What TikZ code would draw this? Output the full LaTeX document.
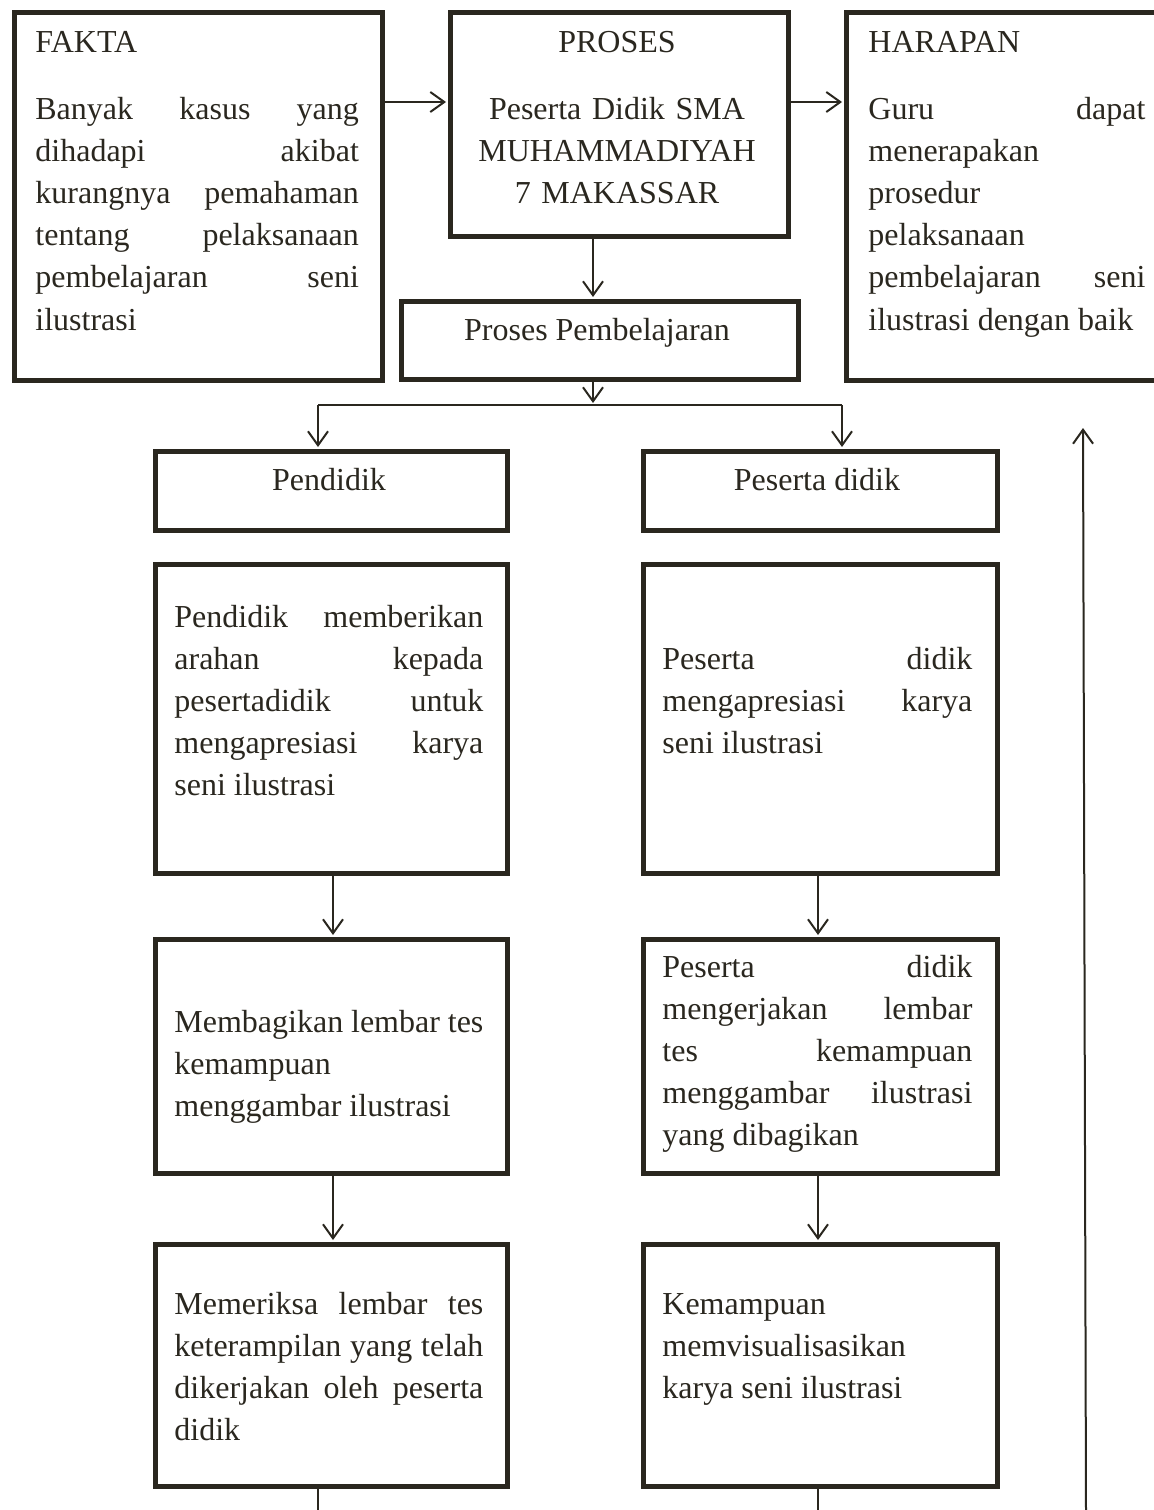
\documentclass[tikz,border=0pt]{standalone}
\usepackage{fontspec}
\setmainfont{Liberation Serif}
\usetikzlibrary{arrows.meta,positioning}

\definecolor{tinta}{RGB}{42,39,31}

\tikzset{
  kotak/.style={draw=tinta, line width=2.4pt, inner sep=0pt, anchor=north west},
  teks/.style={inner sep=0pt, text=tinta, font=\fontsize{16}{21.1}\selectfont},
  judul/.style={teks, anchor=base west},
  paragraf/.style={teks, anchor=base west, align=justify,
    execute at begin node={\tolerance=10000\hyphenpenalty=10000}},
  panah/.style={draw=tinta, line width=1pt, shorten >=1pt,
    -{Straight Barb[length=7pt,width=10pt]}},
  garis/.style={draw=tinta, line width=1pt},
}

\begin{document}
\begin{tikzpicture}[x=0.5pt,y=-0.5pt]
\useasboundingbox (0,0) rectangle (1153,1510);

    % Baris atas: fakta, proses, harapan
    \node[kotak, minimum width=184pt, minimum height=184pt] (fakta) at (12,10) {};
    \node[judul] (fakta-judul) at (35,52) {FAKTA};
    \node[paragraf, text width=161.75pt] (fakta-isi) at (35,119)
      {Banyak kasus yang\linebreak dihadapi akibat\linebreak kurangnya pemahaman\linebreak
       tentang pelaksanaan\linebreak pembelajaran seni\linebreak ilustrasi};

    \node[kotak, minimum width=169pt, minimum height=112pt] (proses) at (448,10) {};
    \node[teks, anchor=base] (proses-judul) at (617,52) {PROSES};
    \node[teks, anchor=base, align=center, text width=165pt] (proses-isi) at (617,119)
      {Peserta Didik SMA\\MUHAMMADIYAH\\7 MAKASSAR};

    \node[kotak, minimum width=163pt, minimum height=184pt] (harapan) at (844,10) {};
    \node[judul] (harapan-judul) at (868,52) {HARAPAN};
    \node[paragraf, text width=138.5pt] (harapan-isi) at (868,119)
      {Guru dapat\linebreak menerapakan\linebreak prosedur\linebreak pelaksanaan\linebreak
       pembelajaran seni\linebreak ilustrasi dengan baik};

    % Proses pembelajaran
    \node[kotak, minimum width=198.5pt, minimum height=39pt] (pembelajaran) at (399,299) {};
    \node[teks, anchor=base] (pembelajaran-teks) at (597,340) {Proses Pembelajaran};

    % Pendidik dan peserta didik
    \node[kotak, minimum width=176pt, minimum height=39.5pt] (pendidik) at (153,449) {};
    \node[teks, anchor=base] (pendidik-teks) at (329,490) {Pendidik};
    \node[kotak, minimum width=177pt, minimum height=39.5pt] (peserta) at (641,449) {};
    \node[teks, anchor=base] (peserta-teks) at (817,490) {Peserta didik};

    % Kolom kiri
    \node[kotak, minimum width=176pt, minimum height=154.5pt] (kiri2) at (153,562) {};
    \node[paragraf, text width=154.5pt] (kiri2-isi) at (174,627)
      {Pendidik memberikan\linebreak arahan kepada\linebreak pesertadidik untuk\linebreak
       mengapresiasi karya\linebreak seni ilustrasi};
    \node[kotak, minimum width=176pt, minimum height=117pt] (kiri3) at (153,937) {};
    \node[paragraf, text width=154.5pt] (kiri3-isi) at (174,1032)
      {Membagikan lembar tes\linebreak kemampuan\linebreak menggambar ilustrasi};
    \node[kotak, minimum width=176pt, minimum height=121pt] (kiri4) at (153,1242) {};
    \node[paragraf, text width=154.5pt] (kiri4-isi) at (174,1314)
      {Memeriksa lembar tes\linebreak keterampilan yang telah\linebreak
       dikerjakan oleh peserta\linebreak didik};

    % Kolom kanan
    \node[kotak, minimum width=177pt, minimum height=154.5pt] (kanan2) at (641,562) {};
    \node[paragraf, text width=155pt] (kanan2-isi) at (662,669)
      {Peserta didik\linebreak mengapresiasi karya\linebreak seni ilustrasi};
    \node[kotak, minimum width=177pt, minimum height=117pt] (kanan3) at (641,937) {};
    \node[paragraf, text width=155pt] (kanan3-isi) at (662,977)
      {Peserta didik\linebreak mengerjakan lembar\linebreak tes kemampuan\linebreak
       menggambar ilustrasi\linebreak yang dibagikan};
    \node[kotak, minimum width=177pt, minimum height=121pt] (kanan4) at (641,1242) {};
    \node[paragraf, text width=155pt] (kanan4-isi) at (662,1314)
      {Kemampuan\linebreak memvisualisasikan\linebreak karya seni ilustrasi};

    % Panah baris atas
    \coordinate (jalur) at (0,102);
    \draw[panah] (fakta.east |- jalur) -- (proses.west |- jalur);
    \draw[panah] (proses.east |- jalur) -- (harapan.west |- jalur);

    % Proses ke pembelajaran, lalu bercabang
    \coordinate (tengah) at (593,405);
    \draw[panah] (proses.south -| tengah) -- (pembelajaran.north -| tengah);
    \draw[panah] (pembelajaran.south -| tengah) -- (tengah);
    \coordinate (cabang-kiri) at (318,405);
    \coordinate (cabang-kanan) at (842,405);
    \draw[garis] (cabang-kiri) -- (cabang-kanan);
    \draw[panah] (cabang-kiri) -- (pendidik.north -| cabang-kiri);
    \draw[panah] (cabang-kanan) -- (peserta.north -| cabang-kanan);

    % Panah di dalam kolom
    \coordinate (kolom-kiri) at (333,0);
    \coordinate (kolom-kanan) at (818,0);
    \foreach \atas/\bawah in {kiri2/kiri3, kiri3/kiri4}
      \draw[panah] (\atas.south -| kolom-kiri) -- (\bawah.north -| kolom-kiri);
    \foreach \atas/\bawah in {kanan2/kanan3, kanan3/kanan4}
      \draw[panah] (\atas.south -| kolom-kanan) -- (\bawah.north -| kolom-kanan);

    % Garis ke bawah dan panah balik ke harapan
    \coordinate (ujung-kiri) at (318,1512);
    \coordinate (ujung-kanan) at (818,1512);
    \draw[garis] (kiri4.south -| ujung-kiri) -- (ujung-kiri);
    \draw[garis] (kanan4.south -| ujung-kanan) -- (ujung-kanan);
    \coordinate (balik-bawah) at (1086,1512);
    \coordinate (balik-atas) at (1083,426);
    \draw[panah] (balik-bawah) -- (balik-atas);

\end{tikzpicture}
\end{document}
